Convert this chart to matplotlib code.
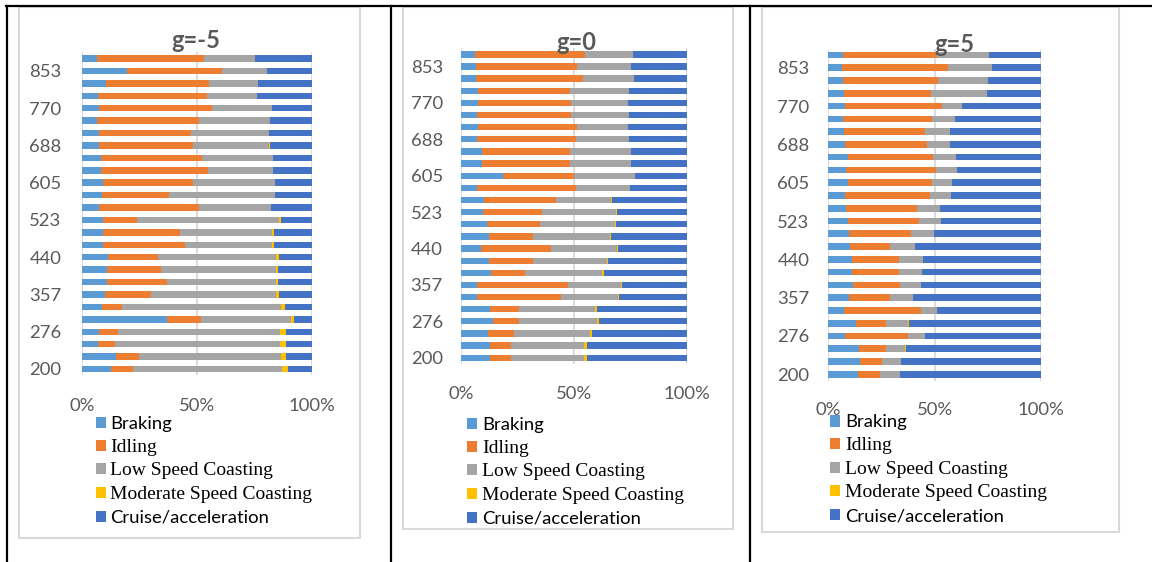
import matplotlib
matplotlib.use('Agg')
import matplotlib.pyplot as plt
from matplotlib.lines import Line2D
from matplotlib.patches import Rectangle
import numpy as np

plt.rcParams['font.family'] = ['Lato', 'DejaVu Sans']

W, H = 1152, 562

series = ['Braking', 'Idling', 'Low Speed Coasting', 'Moderate Speed Coasting', 'Cruise/acceleration']
colors = ['#5B9BD5', '#ED7D31', '#A5A5A5', '#FFC000', '#4472C4']

# y categories, only every 3rd one is labelled
ylabels = ['200', '', '', '276', '', '', '357', '', '', '440', '', '', '523', '', '',
           '605', '', '', '688', '', '', '770', '', '', '853', '']
xticks = [0, 50, 100]
xlabels = ['0%', '50%', '100%']

# g=-5 (bottom row first)
m5_braking = [12.5, 14.7, 6.7, 7.4, 36.9, 8.5, 9.9, 10.6, 10.9, 11.1, 8.9, 8.9, 9.2,
              7.4, 8.5, 9.2, 8.2, 8.2, 7.1, 7.4, 6.4, 7.1, 6.7, 10.2, 19.5, 6.4]
m5_idling = [9.5, 10.2, 7.6, 8.3, 14.8, 8.7, 20.1, 26.4, 23.5, 21.7, 35.7, 33.5, 14.6,
             43.3, 29.3, 38.9, 46.6, 44.1, 41.3, 40.0, 44.5, 49.3, 47.7, 44.9, 41.6, 46.7]
m5_low = [65.2, 61.8, 71.9, 70.5, 39.3, 69.2, 54.4, 47.4, 50.0, 51.7, 38.3, 40.5, 61.8,
          31.5, 46.0, 35.7, 28.4, 30.9, 33.1, 34.1, 31.0, 26.1, 21.7, 21.3, 19.2, 22.4]
m5_moderate = [2.6, 2.2, 2.6, 2.4, 1.1, 1.9, 1.5, 1.0, 1.0, 1.1, 0.6, 0.6, 1.2,
               0.2, 0.4, 0.3, 0.1, 0.1, 0.2, 0.1, 0.1, 0.0, 0.0, 0.0, 0.0, 0.0]
m5_cruise = [10.2, 11.1, 11.2, 11.4, 7.9, 11.7, 14.1, 14.6, 14.6, 14.4, 16.5, 16.5, 13.2,
             17.6, 15.8, 15.9, 16.7, 16.7, 18.3, 18.4, 18.0, 17.5, 23.9, 23.6, 19.7, 24.5]

# g=0
z_braking = [12.9, 12.9, 11.9, 14.3, 12.9, 7.2, 7.2, 13.4, 12.5, 8.7, 12.2, 11.5, 9.7,
             10.1, 7.2, 18.7, 9.3, 9.3, 7.2, 7.4, 7.2, 7.6, 7.5, 6.6, 6.6, 6.3]
z_idling = [9.2, 9.2, 11.3, 11.4, 12.8, 37.1, 40.0, 14.8, 19.4, 31.2, 19.6, 23.6, 25.9,
            32.1, 43.7, 31.3, 38.8, 38.8, 43.5, 43.8, 41.5, 41.1, 40.7, 47.2, 44.6, 48.4]
z_low = [32.3, 32.3, 33.6, 34.3, 33.4, 25.0, 23.7, 34.2, 32.5, 29.1, 33.9, 32.8, 32.9,
         24.3, 23.8, 26.8, 27.2, 27.2, 23.4, 22.8, 25.4, 25.3, 26.1, 22.5, 24.1, 21.3]
z_moderate = [1.3, 1.3, 1.0, 1.0, 0.9, 0.4, 0.4, 0.7, 0.6, 0.4, 0.5, 0.5, 0.5,
              0.1, 0.2, 0.0, 0.0, 0.0, 0.0, 0.0, 0.0, 0.0, 0.0, 0.0, 0.0, 0.0]
z_cruise = [44.3, 44.3, 42.2, 39.0, 40.0, 30.3, 28.7, 36.9, 35.0, 30.6, 33.8, 31.6, 31.0,
            33.4, 25.1, 23.2, 24.7, 24.7, 25.9, 26.0, 25.9, 26.0, 25.7, 23.7, 24.7, 24.0]

# g=5
p5_braking = [14.2, 15.2, 14.4, 7.8, 13.3, 7.5, 9.7, 11.7, 11.4, 11.4, 10.5, 9.7, 9.4,
              8.6, 8.0, 9.4, 8.6, 9.2, 8.1, 7.5, 7.0, 7.8, 7.5, 7.0, 6.7, 7.0]
p5_idling = [10.3, 10.3, 12.9, 29.9, 13.7, 35.9, 19.5, 21.9, 21.7, 21.7, 18.7, 29.1, 33.3,
             33.1, 40.0, 39.5, 42.2, 40.2, 38.2, 38.1, 41.9, 45.5, 40.6, 44.6, 49.6, 44.3]
p5_low = [9.1, 8.7, 9.0, 7.8, 10.7, 7.9, 10.6, 10.0, 11.0, 11.3, 11.6, 10.9, 10.1,
          10.8, 9.7, 9.4, 9.7, 10.6, 10.9, 11.6, 10.6, 9.5, 26.3, 23.2, 20.6, 24.2]
p5_moderate = [0.1, 0.1, 0.1, 0.0, 0.2, 0.0, 0.0, 0.0, 0.0, 0.0, 0.0, 0.0, 0.0,
               0.0, 0.0, 0.0, 0.0, 0.0, 0.0, 0.0, 0.0, 0.0, 0.0, 0.0, 0.0, 0.0]
p5_cruise = [66.3, 65.7, 63.6, 54.5, 62.1, 48.7, 60.2, 56.4, 55.9, 55.6, 59.2, 50.3, 47.2,
             47.5, 42.3, 41.7, 39.5, 40.0, 42.8, 42.8, 40.5, 37.2, 25.6, 25.2, 23.1, 24.5]

panels = [
    ('g=-5', [m5_braking, m5_idling, m5_low, m5_moderate, m5_cruise]),
    ('g=0', [z_braking, z_idling, z_low, z_moderate, z_cruise]),
    ('g=5', [p5_braking, p5_idling, p5_low, p5_moderate, p5_cruise]),
]

# pixel layout: axes (left, right, top, bottom), chart frame, title, legend, tick pads
axbox = [(82.3, 311.7, 52.3, 375.2), (461, 687.3, 48.3, 363.8), (828, 1041.3, 48.6, 380.7)]
frames = [(19, 360, 7, 537.7), (403, 733, 7, 529), (762, 1119, 7, 532)]
titles = [(196, 48.5), (576, 50.5), (954, 51.5)]
legpos = [(95.5, 416), (467, 417), (830, 414.5)]
ypads = [15, 13, 13.5]
xpads = [16.5, 16, 15]

fig = plt.figure(figsize=(W / 100, H / 100), dpi=100)

for i, (title, vals) in enumerate(panels):
    fx0, fx1, fy0, fy1 = frames[i]
    fig.patches.append(Rectangle((fx0 / W, 1 - fy1 / H), (fx1 - fx0) / W, (fy1 - fy0) / H,
                                 transform=fig.transFigure, fill=False, ec='#D9D9D9', lw=1.5))

    x0, x1, y0, y1 = axbox[i]
    ax = fig.add_axes([x0 / W, 1 - y1 / H, (x1 - x0) / W, (y1 - y0) / H])
    ax.patch.set_alpha(0)
    y = np.arange(len(ylabels))
    left = np.zeros(len(ylabels))
    handles = []
    for name, v, c in zip(series, vals, colors):
        b = ax.barh(y, v, left=left, height=0.52, color=c, label=name)
        handles.append(b)
        left = left + np.array(v)
    ax.set_xlim(0, 100)
    ax.set_ylim(-0.5, len(ylabels) - 0.5)
    ax.set_xticks(xticks)
    ax.set_xticklabels(xlabels)
    ax.set_yticks(y)
    ax.set_yticklabels(ylabels)
    ax.tick_params(axis='y', length=0, pad=ypads[i], labelsize=13.3, labelcolor='#595959')
    ax.tick_params(axis='x', length=0, pad=xpads[i], labelsize=13.3, labelcolor='#595959')
    ax.grid(axis='x', color='#D9D9D9', lw=1.3)
    ax.set_axisbelow(True)
    for s in ax.spines.values():
        s.set_visible(False)

    fig.text(titles[i][0] / W, 1 - titles[i][1] / H, title, ha='center', va='baseline',
             fontsize=17, fontweight='bold', color='#595959')

    lx, ly = legpos[i]
    leg = ax.legend(handles, series, loc='upper left', bbox_to_anchor=(lx / W, 1 - ly / H),
                    bbox_transform=fig.transFigure, frameon=False, borderpad=0,
                    borderaxespad=0, handlelength=0.55, handleheight=0.55,
                    handletextpad=0.25, labelspacing=0.36, prop={'size': 13.3})
    for j, t in enumerate(leg.get_texts()):
        if j in (1, 2, 3):
            t.set_fontfamily('Liberation Serif')
            t.set_fontsize(14)
        t.set_color('black')

# table borders around the three panels
for x in [6.5, 390.5, 750]:
    fig.add_artist(Line2D([x / W, x / W], [0, 1 - 5.5 / H], color='black', lw=1.6))
fig.add_artist(Line2D([5.5 / W, 1], [1 - 6 / H, 1 - 6 / H], color='black', lw=1.6))

fig.savefig('out.png', dpi=100)
